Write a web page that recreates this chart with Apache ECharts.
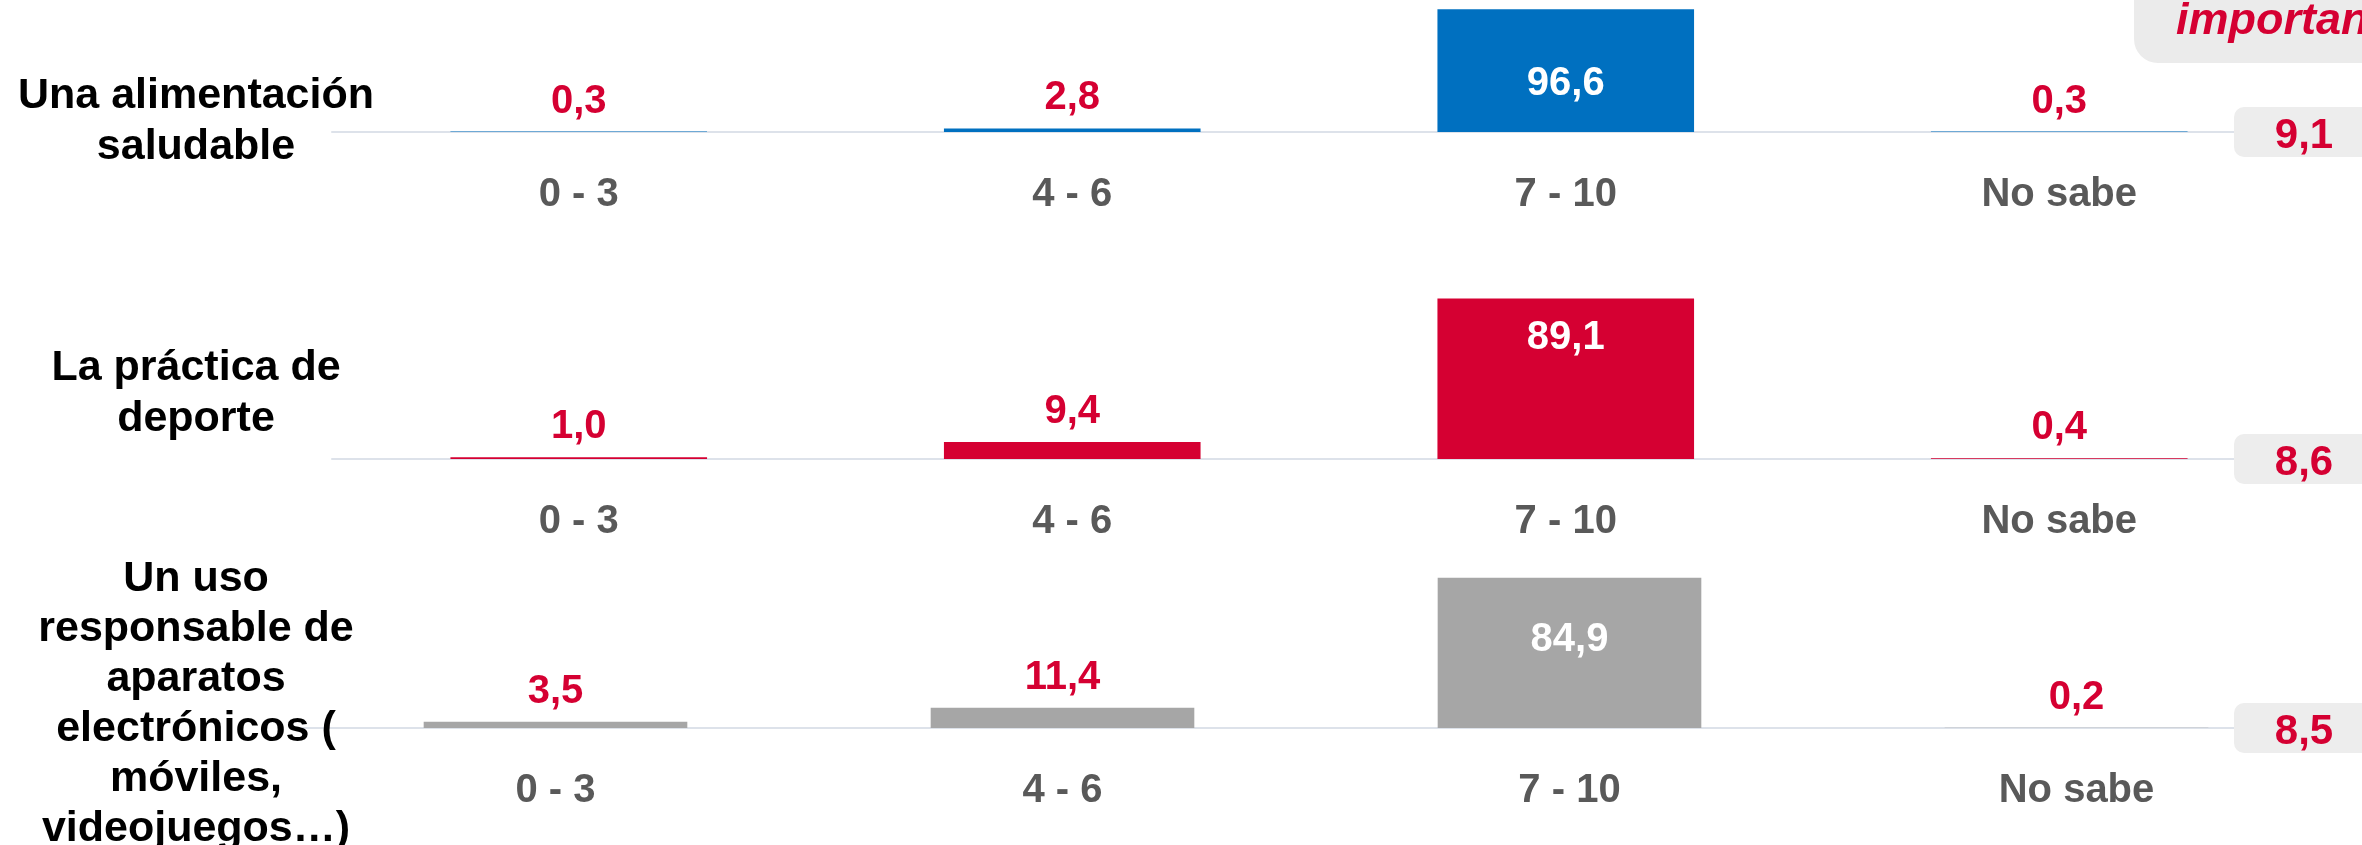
<!DOCTYPE html>
<html>
<head>
<meta charset="utf-8">
<script src="https://cdn.jsdelivr.net/npm/echarts@6/dist/echarts.min.js"></script>
<style>
html, body { margin: 0; padding: 0; background: #fff; }
#chart { width: 2362px; height: 845px; }
</style>
</head>
<body>
<div id="chart"></div>
<script>
// datos
var categorias = ['0 - 3', '4 - 6', '7 - 10', 'No sabe'];
var alimentacion = [0.3, 2.8, 96.6, 0.3];
var deporte = [1.0, 9.4, 89.1, 0.4];
var aparatos = [3.5, 11.4, 84.9, 0.2];
var medias = [9.1, 8.6, 8.5];
var temas = [
    'Una alimentación\nsaludable',
    'La práctica de\ndeporte',
    'Un uso\nresponsable de\naparatos\nelectrónicos (\nmóviles,\nvideojuegos…)'
];

var rojo = '#D50032';
var fuente = '"Liberation Sans", Arial, sans-serif';

function fmt(v) {
    return v.toFixed(1).replace('.', ',');
}

// un panel por tema
var paneles = [
    { datos: alimentacion, color: '#0070C0', grid: { left: 332, right: 56, top: 5, height: 127 }, dentro: 55, temaY: 122, interlinea: 51 },
    { datos: deporte, color: rojo, grid: { left: 332, right: 56, top: 279, height: 180 }, dentro: 19, temaY: 394, interlinea: 51 },
    { datos: aparatos, color: '#A6A6A6', grid: { left: 302, right: 32, top: 551, height: 177 }, dentro: 42, temaY: 704, interlinea: 50 }
];

var myChart = echarts.init(document.getElementById('chart'));

var option = {
    animation: false,
    grid: [],
    xAxis: [],
    yAxis: [],
    series: []
};

paneles.forEach(function(p, i) {
    option.grid.push(p.grid);
    option.xAxis.push({
        type: 'category',
        gridIndex: i,
        data: categorias,
        axisTick: { show: false },
        axisLine: { lineStyle: { color: '#DDE2EA', width: 2 } },
        axisLabel: {
            margin: 43,
            color: '#595959',
            fontFamily: fuente,
            fontWeight: 'bold',
            fontSize: 40
        }
    });
    option.yAxis.push({
        type: 'value',
        gridIndex: i,
        min: 0,
        max: 100,
        show: false,
        splitLine: { show: false }
    });
    option.series.push({
        type: 'bar',
        xAxisIndex: i,
        yAxisIndex: i,
        barWidth: '52%',
        itemStyle: { color: p.color },
        label: {
            show: true,
            position: 'top',
            distance: 10,
            color: rojo,
            fontFamily: fuente,
            fontWeight: 'bold',
            fontSize: 40,
            formatter: function(d) { return fmt(d.value); }
        },
        data: p.datos.map(function(v, j) {
            if (j === 2) {
                return {
                    value: v,
                    label: { position: 'insideTop', distance: p.dentro, color: '#fff' }
                };
            }
            return v;
        })
    });
});

myChart.setOption(option);

// textos de la izquierda, medias a la derecha y cabecera recortada
var graficos = [];
paneles.forEach(function(p, i) {
    graficos.push({
        type: 'text',
        x: 196,
        y: p.temaY,
        z: 10,
        style: {
            text: temas[i],
            textAlign: 'center',
            textVerticalAlign: 'middle',
            font: 'bold 43px ' + fuente,
            lineHeight: p.interlinea,
            fill: '#000'
        }
    });
    var ejeY = myChart.convertToPixel({ yAxisIndex: i }, 0);
    graficos.push({
        type: 'rect',
        z: 10,
        shape: { x: 2234, y: ejeY - 25, width: 150, height: 50, r: 10 },
        style: { fill: '#EDEDED' }
    });
    graficos.push({
        type: 'text',
        z: 11,
        x: 2304,
        y: ejeY + 4,
        style: {
            text: fmt(medias[i]),
            textAlign: 'center',
            textVerticalAlign: 'middle',
            font: 'bold 42px ' + fuente,
            fill: rojo
        }
    });
});
graficos.push({
    type: 'rect',
    z: 10,
    shape: { x: 2134, y: -40, width: 300, height: 103, r: 24 },
    style: { fill: '#EBEBEB' }
});
graficos.push({
    type: 'text',
    z: 11,
    x: 2176,
    y: 44,
    style: {
        text: 'importancia',
        textAlign: 'left',
        textVerticalAlign: 'bottom',
        font: 'italic bold 45px ' + fuente,
        fill: rojo
    }
});

myChart.setOption({ graphic: graficos });
</script>
</body>
</html>
